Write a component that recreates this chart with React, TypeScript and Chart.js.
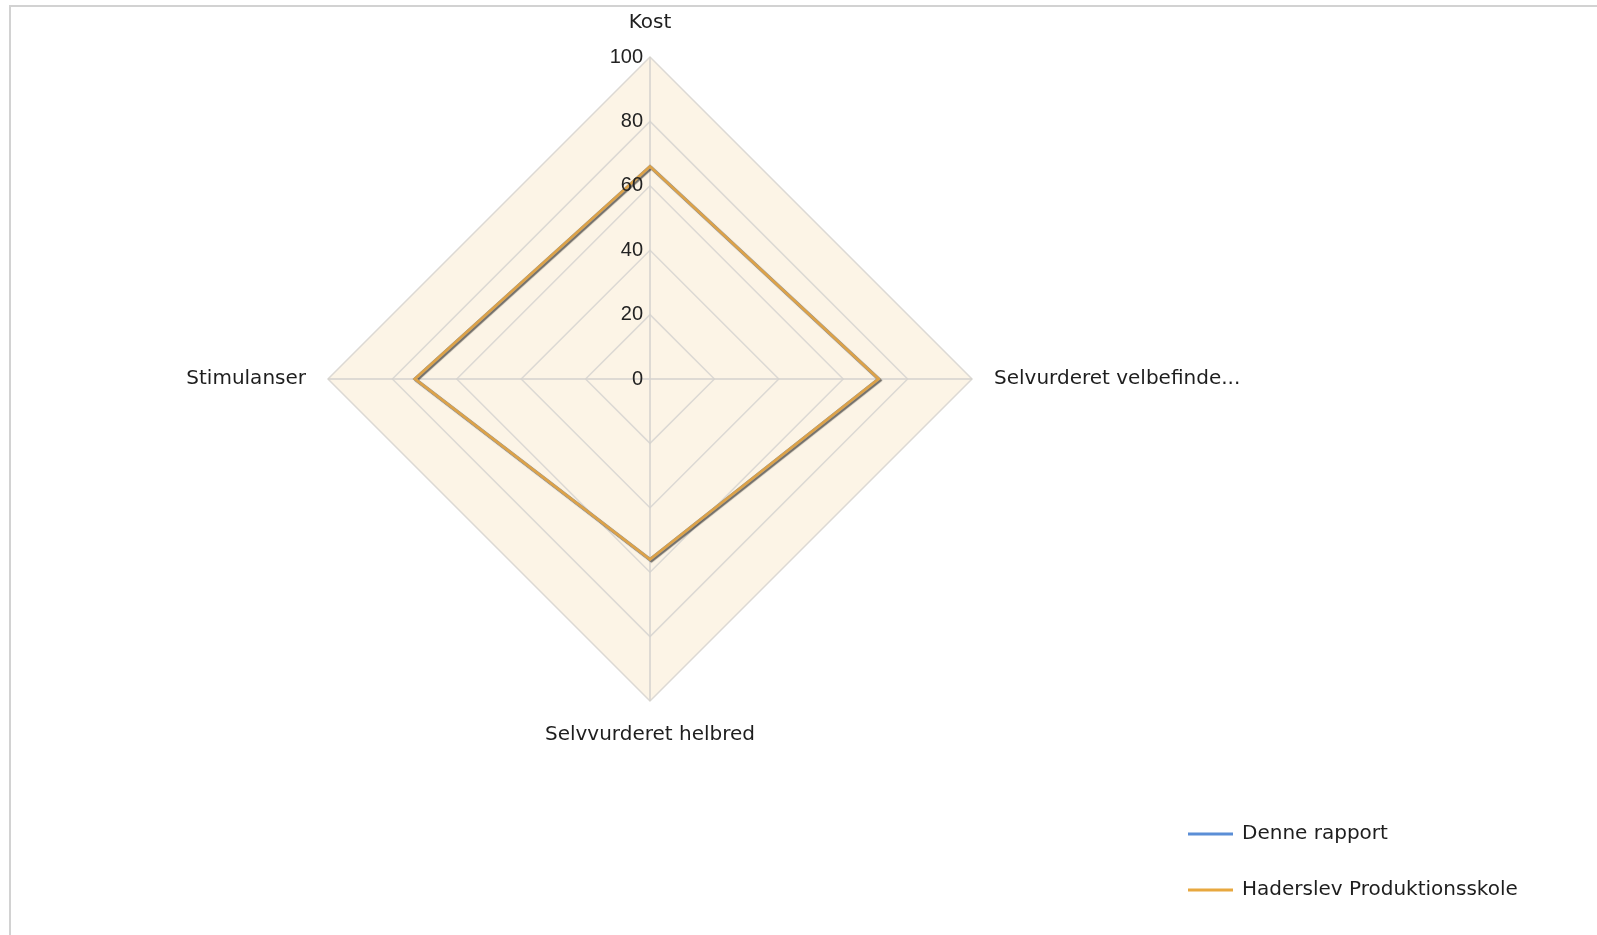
import React, { useEffect, useRef } from "react";
import { Chart, registerables } from "chart.js";

Chart.register(...registerables);

const categories = ["Kost", "Selvurderet velbefinde...", "Selvvurderet helbred", "Stimulanser"];
const denneRapport = [66, 71, 56, 73];
const haderslev = [66, 71, 56, 73];
const seriesNames = ["Denne rapport", "Haderslev Produktionsskole"];
const seriesColors = ["#5b8ed6", "#dca249"];
const tickMin = 0;
const tickMax = 100;
const tickStep = 20;

const TEXT_FONT = "'DejaVu Sans', sans-serif";
const TICK_FONT = "'Liberation Sans', Arial, sans-serif";

const backgroundPlugin = {
  id: "radarBackground",
  beforeDraw(chart: any) {
    const scale = chart.scales.r;
    if (!scale) return;
    const ctx = chart.ctx;
    const n = chart.data.labels.length;
    ctx.save();
    ctx.beginPath();
    for (let i = 0; i < n; i++) {
      const p = scale.getPointPosition(i, scale.getDistanceFromCenterForValue(tickMax));
      if (i === 0) ctx.moveTo(p.x, p.y);
      else ctx.lineTo(p.x, p.y);
    }
    ctx.closePath();
    ctx.fillStyle = "#fcf4e6";
    ctx.fill();
    ctx.restore();
  },
};

const shadowPlugin = {
  id: "lineShadow",
  beforeDatasetDraw(chart: any, args: any) {
    const ctx = chart.ctx;
    ctx.save();
    if (args.index === 0) {
      ctx.shadowColor = "rgba(0,0,0,0.55)";
      ctx.shadowOffsetX = 1.5;
      ctx.shadowOffsetY = 1.5;
      ctx.shadowBlur = 1;
    }
  },
  afterDatasetDraw(chart: any) {
    chart.ctx.restore();
  },
};

const ticksPlugin = {
  id: "customTicks",
  afterDatasetsDraw(chart: any) {
    const scale = chart.scales.r;
    if (!scale) return;
    const ctx = chart.ctx;
    ctx.save();
    ctx.font = `20px ${TICK_FONT}`;
    ctx.fillStyle = "#222222";
    ctx.textAlign = "right";
    ctx.textBaseline = "middle";
    for (const t of scale.ticks) {
      const d = scale.getDistanceFromCenterForValue(t.value);
      ctx.fillText(String(t.value), scale.xCenter - 7, scale.yCenter - d);
    }
    ctx.restore();
  },
};

const legendPlugin = {
  id: "customLegend",
  afterDraw(chart: any) {
    const ctx = chart.ctx;
    ctx.save();
    chart.data.datasets
      .slice()
      .sort((a: any, b: any) => a.legendIndex - b.legendIndex)
      .forEach((ds: any, i: number) => {
        const y = 834 + i * 56;
        ctx.strokeStyle = ds.legendColor;
        ctx.lineWidth = 3;
        ctx.beginPath();
        ctx.moveTo(1188, y);
        ctx.lineTo(1233, y);
        ctx.stroke();
        ctx.font = `20px ${TEXT_FONT}`;
        ctx.fillStyle = "#1e1e1e";
        ctx.textAlign = "left";
        ctx.textBaseline = "middle";
        ctx.fillText(ds.label, 1242, y);
      });
    ctx.restore();
  },
};

export default function App() {
  const canvasRef = useRef<HTMLCanvasElement | null>(null);

  useEffect(() => {
    if (!canvasRef.current) return;
    const chart = new Chart(canvasRef.current, {
      type: "radar",
      data: {
        labels: categories,
        datasets: [
          {
            label: seriesNames[0],
            data: denneRapport,
            borderColor: seriesColors[0],
            backgroundColor: "transparent",
            borderWidth: 3,
            pointRadius: 0,
            fill: false,
            order: 1,
            legendIndex: 0,
            legendColor: "#5b8ed6",
          } as any,
          {
            label: seriesNames[1],
            data: haderslev,
            borderColor: seriesColors[1],
            backgroundColor: "transparent",
            borderWidth: 3,
            pointRadius: 0,
            fill: false,
            order: 0,
            legendIndex: 1,
            legendColor: "#e8a83f",
          } as any,
        ],
      },
      options: {
        responsive: false,
        animation: false,
        layout: { padding: { left: 0, top: 11, right: 297, bottom: 188 } },
        plugins: {
          legend: { display: false },
          tooltip: { enabled: false },
        },
        scales: {
          r: {
            min: tickMin,
            max: tickMax,
            ticks: {
              stepSize: tickStep,
              color: "rgba(0,0,0,0)",
              showLabelBackdrop: false,
              font: { size: 20 },
            },
            grid: { color: "#dcd9d4", lineWidth: 1.5 },
            angleLines: { color: "#d4d2ce", lineWidth: 1.5 },
            pointLabels: {
              padding: 10,
              color: "#1e1e1e",
              font: { family: TEXT_FONT, size: 20 },
            },
          },
        },
      },
      plugins: [backgroundPlugin, shadowPlugin, ticksPlugin, legendPlugin],
    });
    return () => chart.destroy();
  }, []);

  return (
    <div
      style={{
        position: "absolute",
        left: 0,
        top: 0,
        width: 1597,
        height: 935,
        overflow: "hidden",
        background: "#ffffff",
      }}
    >
      <div
        style={{
          position: "absolute",
          left: 9,
          top: 5,
          width: 1700,
          height: 1000,
          borderLeft: "2px solid #d2d2d2",
          borderTop: "2px solid #d2d2d2",
        }}
      />
      <canvas
        ref={canvasRef}
        width={1597}
        height={935}
        style={{ position: "absolute", left: 0, top: 0, width: 1597, height: 935 }}
      />
    </div>
  );
}
